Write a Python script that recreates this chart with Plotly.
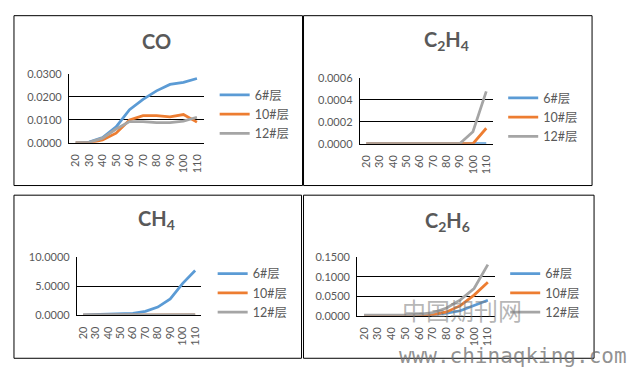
import plotly.graph_objects as go

W, H = 628, 372

categories = ["20", "30", "40", "50", "60", "70", "80", "90", "100", "110"]
series_names = ["6#层", "10#层", "12#层"]
colors = ["#5B9BD5", "#ED7D31", "#A5A5A5"]

# CO
co_6 = [0.0000, 0.0003, 0.0023, 0.0069, 0.0144, 0.0189, 0.0226, 0.0254, 0.0263, 0.0280]
co_10 = [0.0000, 0.0000, 0.0012, 0.0042, 0.0099, 0.0118, 0.0118, 0.0113, 0.0123, 0.0090]
co_12 = [0.0000, 0.0002, 0.0020, 0.0060, 0.0092, 0.0092, 0.0088, 0.0088, 0.0094, 0.0111]

# C2H4
c2h4_6 = [0.0, 0.0, 0.0, 0.0, 0.0, 0.0, 0.0, 0.0, 0.0, 0.0]
c2h4_10 = [0.0, 0.0, 0.0, 0.0, 0.0, 0.0, 0.0, 0.0, 0.0, 0.000141]
c2h4_12 = [0.0, 0.0, 0.0, 0.0, 0.0, 0.0, 0.0, 0.0, 0.000109, 0.000476]

# CH4
ch4_6 = [0.05, 0.10, 0.15, 0.22, 0.30, 0.65, 1.40, 2.80, 5.50, 7.70]
ch4_10 = [0.02, 0.02, 0.02, 0.02, 0.02, 0.02, 0.02, 0.03, 0.03, 0.04]
ch4_12 = [0.02, 0.02, 0.02, 0.02, 0.02, 0.03, 0.03, 0.04, 0.05, 0.08]

# C2H6
c2h6_6 = [0.001, 0.001, 0.001, 0.001, 0.001, 0.003, 0.007, 0.013, 0.026, 0.040]
c2h6_10 = [0.000, 0.000, 0.000, 0.000, 0.001, 0.003, 0.010, 0.026, 0.053, 0.086]
c2h6_12 = [0.002, 0.002, 0.002, 0.002, 0.004, 0.008, 0.020, 0.041, 0.070, 0.131]

titles = ["CO", "C<sub>2</sub>H<sub>4</sub>", "CH<sub>4</sub>", "C<sub>2</sub>H<sub>6</sub>"]
panel_data = [
    [co_6, co_10, co_12],
    [c2h4_6, c2h4_10, c2h4_12],
    [ch4_6, ch4_10, ch4_12],
    [c2h6_6, c2h6_10, c2h6_12],
]
y_ranges = [[0, 0.03], [0, 0.0006], [0, 10], [0, 0.15]]
y_dticks = [0.01, 0.0002, 5, 0.05]


def fx(p):
    return p / W


def fy(p):
    return 1 - p / H


# layout geometry in pixels (left, right, top, bottom of plot area)
plot_px = [
    (68, 203, 69.3, 140.7),
    (359.3, 492.7, 73.3, 141.7),
    (76, 200.7, 259.3, 319.3),
    (356.7, 494.5, 259.3, 320),
]
border_px = [
    (13, 302, 9, 185),
    (303, 592, 9, 185),
    (13, 301, 195, 364),
    (303, 594, 195, 364),
]
title_px = [(156, 35), (446, 35), (156, 220), (447, 222)]
legend_px = [(222, 93), (511, 96), (220, 278), (513, 278)]

FONT = "Lato, 'Noto Sans CJK SC', sans-serif"
TXT = "#595959"

fig = go.Figure()
layout = dict(
    width=W, height=H, margin=dict(l=0, r=0, t=0, b=0),
    paper_bgcolor="white", plot_bgcolor="white",
    font=dict(family=FONT, color=TXT, size=11),
    annotations=[], shapes=[],
)

for i in range(4):
    xa = "x" if i == 0 else f"x{i+1}"
    ya = "y" if i == 0 else f"y{i+1}"
    lg = "legend" if i == 0 else f"legend{i+1}"
    for s in range(3):
        fig.add_trace(go.Scatter(
            x=categories, y=panel_data[i][s], name=series_names[s],
            mode="lines", line=dict(color=colors[s], width=2.75),
            xaxis=xa, yaxis=ya, legend=lg, hoverinfo="skip",
        ))
    l, r, t, b = plot_px[i]
    xkey = "xaxis" if i == 0 else f"xaxis{i+1}"
    ykey = "yaxis" if i == 0 else f"yaxis{i+1}"
    layout[xkey] = dict(
        domain=[fx(l), fx(r)], anchor=ya, type="category",
        range=[-0.5, 9.5], tickmode="linear", tick0=0, dtick=1,
        tickangle=-90, ticks="", showgrid=False,
        showline=True, linecolor="black", linewidth=1,
        tickfont=dict(size=11, color=TXT, family=FONT),
        ticklabelstandoff=6, fixedrange=True,
    )
    layout[ykey] = dict(
        domain=[fy(b), fy(t)], anchor=xa, range=y_ranges[i],
        dtick=y_dticks[i], tick0=0, tickformat=".4f",
        showgrid=True, gridcolor="black", gridwidth=1,
        zeroline=False, showline=True, linecolor="black", linewidth=1,
        ticks="", tickfont=dict(size=11, color=TXT, family=FONT),
        ticklabelstandoff=4, fixedrange=True,
    )
    lx, ly = legend_px[i]
    layout[lg] = dict(
        x=fx(lx - 8), y=fy(ly - 17), xanchor="left", yanchor="top",
        bgcolor="rgba(0,0,0,0)", borderwidth=0,
        font=dict(size=12.5, color=TXT, family=FONT),
        itemwidth=30, tracegroupgap=0,
    )
    bl, br, bt, bb = border_px[i]
    layout["shapes"].append(dict(
        type="rect", xref="paper", yref="paper",
        x0=fx(bl), x1=fx(br), y0=fy(bb), y1=fy(bt),
        line=dict(color="black", width=1),
    ))
    tx, ty = title_px[i]
    layout["annotations"].append(dict(
        text=f"<b>{titles[i]}</b>", xref="paper", yref="paper",
        x=fx(tx), y=fy(ty), xanchor="center", yanchor="middle",
        showarrow=False, font=dict(size=20, color=TXT, family=FONT),
    ))

# watermark
layout["annotations"].append(dict(
    text="中国期刊网", xref="paper", yref="paper", x=fx(462), y=fy(313),
    xanchor="center", yanchor="middle", showarrow=False,
    font=dict(size=24, color="rgba(120,120,120,0.55)", family="'Noto Sans CJK SC'"),
))
layout["annotations"].append(dict(
    text="www.chinaqking.com", xref="paper", yref="paper", x=fx(397), y=fy(362),
    xanchor="left", yanchor="middle", showarrow=False,
    font=dict(size=21, color="rgba(110,110,110,0.75)", family="'DejaVu Sans Mono'"),
))

fig.update_layout(**layout)
fig.write_html("out.html", config={"displayModeBar": False},
               post_script="document.body.style.margin='0';")
